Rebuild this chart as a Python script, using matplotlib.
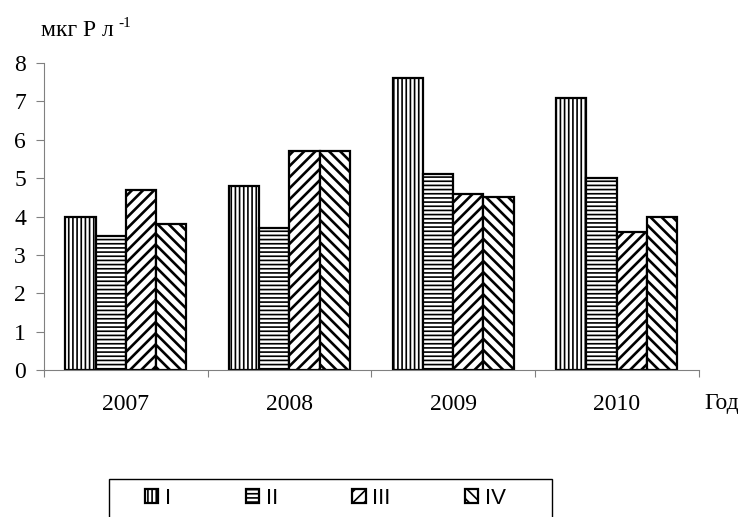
import numpy as np
import matplotlib.pyplot as plt
from matplotlib.patches import Rectangle

years = ['2007', '2008', '2009', '2010']
series = ['I', 'II', 'III', 'IV']
vals_I = [4.0, 4.8, 7.6, 7.1]
vals_II = [3.5, 3.7, 5.1, 5.0]
vals_III = [4.7, 5.7, 4.6, 3.6]
vals_IV = [3.8, 5.7, 4.5, 4.0]
hatches = ['||||', '----', '///', '\\\\\\']
hatch_lw = [1.2, 1.2, 1.9, 1.9]

serif = 'Liberation Serif'
fs = 17

fig = plt.figure(figsize=(7.49, 5.17), dpi=100)
ax = fig.add_axes([0.0587, 0.2843, 0.874, 0.5937])

x = np.arange(len(years))
w = 0.185
data = [vals_I, vals_II, vals_III, vals_IV]
handles = []
for i, (v, h) in enumerate(zip(data, hatches)):
    with plt.rc_context({'hatch.linewidth': hatch_lw[i]}):
        b = ax.bar(x + (i - 1.5) * w, v, w, facecolor='white', edgecolor='black',
                   hatch=h, linewidth=1.6, label=series[i])
    handles.append(b)

ax.set_xlim(-0.5, 3.5)
ax.set_ylim(0, 8)
ax.set_yticks(range(0, 9))
ax.set_xticks(np.arange(-0.5, 4.0, 1.0))
ax.set_xticks(x, minor=True)
ax.set_xticklabels([])
ax.set_xticklabels(years, minor=True, fontfamily=serif, fontsize=fs)
ax.tick_params(axis='x', which='minor', length=0, pad=17)
ax.tick_params(axis='x', which='major', length=5, color='gray', direction='out')
ax.tick_params(axis='y', length=6, color='gray', direction='out', pad=7)
for lab in ax.get_yticklabels():
    lab.set_fontfamily(serif)
    lab.set_fontsize(fs)
for s in ['top', 'right']:
    ax.spines[s].set_visible(False)
for s in ['left', 'bottom']:
    ax.spines[s].set_color('gray')

fig.text(0.055, 0.930, 'мкг Р л', fontfamily=serif, fontsize=fs, ha='left', va='baseline')
fig.text(0.158, 0.947, '-1', fontfamily=serif, fontsize=11, ha='left', va='baseline')
fig.text(0.941, 0.2186, 'Год', fontfamily=serif, fontsize=fs, ha='left', va='center')

# legend frame (bottom edge runs off the figure)
fig.patches.append(Rectangle((109 / 749, -0.05), (552 - 109) / 749, 0.05 + 1 - 479 / 517,
                             transform=fig.transFigure, fill=False,
                             edgecolor='black', linewidth=1.0))
with plt.rc_context({'hatch.linewidth': 1.2}):
    leg = fig.legend(handles=handles, labels=series, loc='center left', ncol=4,
                     bbox_to_anchor=(145 / 749, 1 - 498 / 517), frameon=False,
                     handlelength=0.6, handleheight=0.6, borderpad=0, borderaxespad=0,
                     columnspacing=3.35, handletextpad=0.3,
                     prop={'family': 'Liberation Sans', 'size': 16})

fig.savefig('out.png', dpi=100)
